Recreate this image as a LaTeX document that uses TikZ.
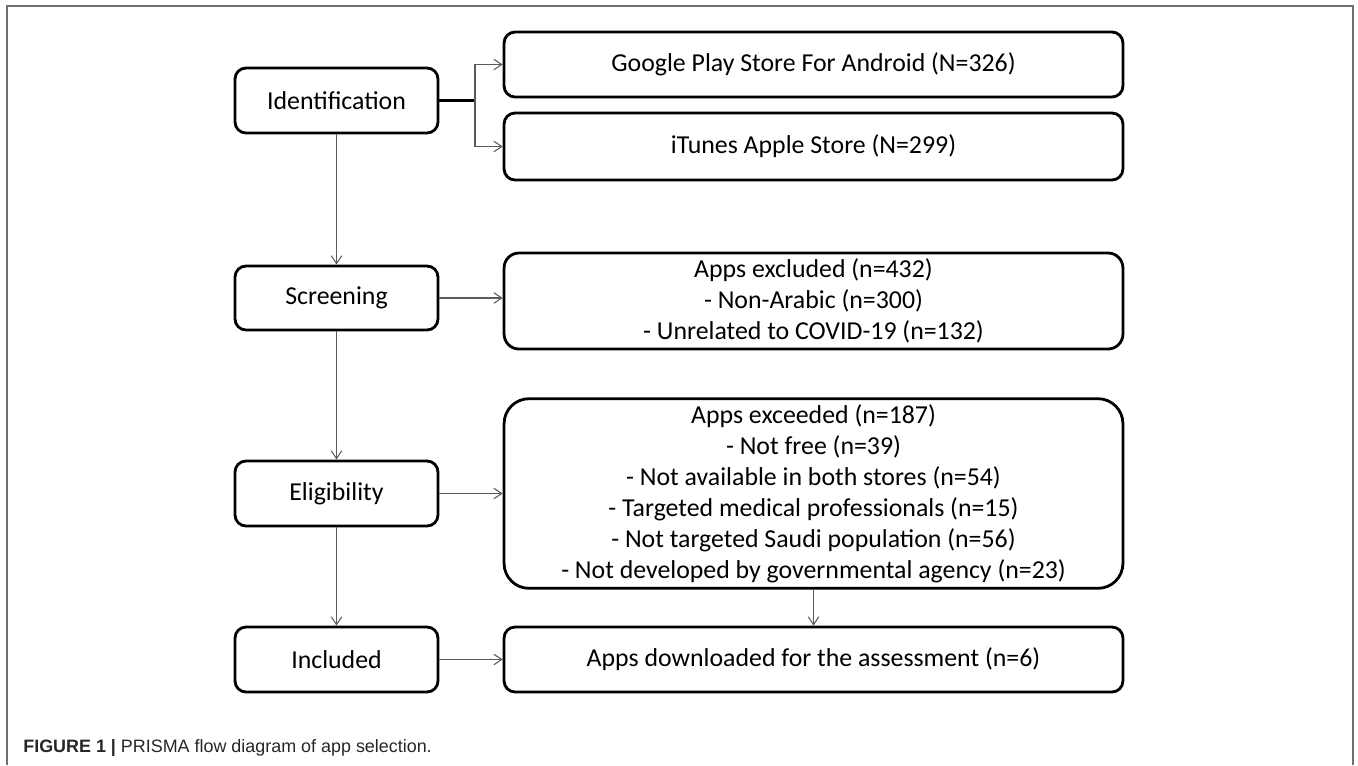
\documentclass[tikz,border=0pt]{standalone}
\usepackage{fontspec}
\setmainfont{Carlito}
\newfontfamily\capfont{Liberation Sans}
\usetikzlibrary{arrows.meta}
\definecolor{framegray}{HTML}{707070}
\definecolor{linegray}{HTML}{5A5A5A}
\tikzset{
  stage/.style={draw,line width=1.6pt,rounded corners=0.22cm,minimum width=4.06cm,
    minimum height=1.3cm,align=center,font=\fontsize{14.7}{17.6}\selectfont},
  outcome/.style={stage,minimum width=12.38cm},
  flow/.style={draw=linegray,line width=0.6pt,-{Straight Barb[length=4.5pt,width=6pt]}},
}
\begin{document}
\begin{tikzpicture}[x=0.02cm,y=-0.02cm]
\useasboundingbox (0,0) rectangle (1358,765);
\draw[framegray,line width=1pt] (7,765) -- (7,6) -- (1353,6) -- (1353,765);

\node[stage] (ident) at (336.5,100.5) {Identification};
\node[outcome] (google) at (813.5,64.5) {Google Play Store For Android (N=326)};
\node[outcome,minimum height=1.34cm] (itunes) at (813.5,146.5) {iTunes Apple Store (N=299)};

\node[stage,minimum height=1.28cm] (screen) at (336.5,298) {Screening};
\node[outcome,minimum height=1.92cm,rounded corners=0.3cm] (excl) at (813.5,301) {Apps excluded (n=432)\\- Non-Arabic (n=300)\\- Unrelated to COVID-19 (n=132)};

\node[stage] (elig) at (336.5,493.5) {Eligibility};
\node[outcome,minimum height=3.72cm,rounded corners=0.5cm] (exceed) at (813.5,493.5) {Apps exceeded (n=187)\\- Not free (n=39)\\- Not available in both stores (n=54)\\- Targeted medical professionals (n=15)\\- Not targeted Saudi population (n=56)\\- Not developed by governmental agency (n=23)};

\node[stage] (incl) at (336.5,659.5) {Included};
\node[outcome] (dl) at (813.5,659.5) {Apps downloaded for the assessment (n=6)};

% identification fork
\coordinate (fork) at (475,100.5);
\draw[line width=1.2pt] (ident.east) -- (fork);
\draw[flow] (fork) |- (google.west);
\draw[flow] (fork) |- (itunes.west);

\draw[flow] (ident) -- (screen);
\draw[flow] (screen) -- (elig);
\draw[flow] (elig) -- (incl);
\draw[flow] (screen.east) -- (screen.east -| excl.west);
\draw[flow] (elig.east) -- (elig.east -| exceed.west);
\draw[flow] (incl) -- (dl);
\draw[flow] (exceed) -- (dl);

\node[anchor=base west,inner sep=0pt,font=\capfont\fontsize{10.2}{12}\selectfont,text=black!85] (cap) at (23,752) {\textbf{FIGURE 1 |} PRISMA flow diagram of app selection.};
\end{tikzpicture}
\end{document}
